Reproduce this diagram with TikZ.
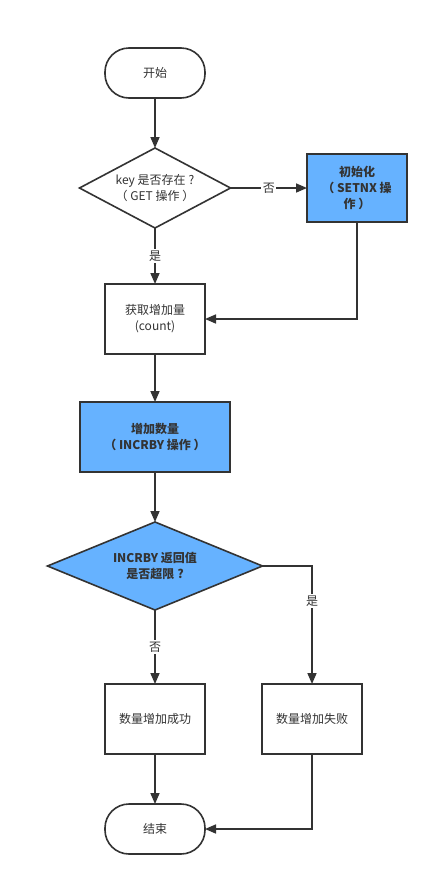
\documentclass[tikz,border=0pt]{standalone}
\usepackage{fontspec}
\setmainfont{Noto Sans CJK SC}
\usetikzlibrary{shapes.geometric,arrows.meta}
\definecolor{edge}{HTML}{333333}
\definecolor{txt}{HTML}{333333}
\definecolor{blue1}{HTML}{66B2FF}
\begin{document}
\begin{tikzpicture}[x=1pt,y=-1pt,
  every node/.style={font=\fontsize{12}{16}\selectfont, text=txt, align=center},
  base/.style={draw=edge, line width=1.6pt, inner sep=0pt, outer sep=0pt},
  box/.style={base, fill=white, minimum width=100pt, minimum height=70pt},
  term/.style={base, fill=white, minimum width=100pt, minimum height=50pt, rounded corners=24pt},
  dec/.style={base, shape=diamond, fill=white},
  hl/.style={fill=blue1, font=\fontsize{12}{16}\selectfont\bfseries},
  arr/.style={draw=edge, line width=1.6pt, -{Triangle[length=11pt,width=9pt]}},
  lbl/.style={fill=white, inner sep=1.5pt, font=\fontsize{12}{14}\selectfont}
]
\useasboundingbox[fill=white] (0,0) rectangle (438,884);
\node[term] (start) at (155,73) {开始};
\node[dec, aspect=1.89, minimum width=151pt, minimum height=80pt] (d1) at (155,188) {key 是否存在\hspace{3pt}?\\（ GET 操作 ）};
\node[box, hl, minimum height=68pt] (init) at (357,188) {初始化\\（ SETNX 操\\作 ）};
\node[box] (get) at (155,319) {获取增加量\\(count)};
\node[box, hl, minimum width=150pt] (incr) at (155,437) {增加数量\\（ INCRBY 操作 ）};
\node[dec, hl, aspect=2.44, minimum width=215pt, minimum height=88pt] (d2) at (155,566) {INCRBY 返回值\\是否超限\hspace{3pt}?};
\node[box] (ok) at (155,719) {数量增加成功};
\node[box] (fail) at (312,719) {数量增加失败};
\node[term] (end) at (155,829) {结束};

\draw[arr] (start) -- (d1);
\draw[arr] (d1.east) -- node[lbl]{否} (init.west);
\draw[arr] (d1.south) -- node[lbl]{是} (get.north);
\draw[arr] (init.south) |- (get.east);
\draw[arr] (get) -- (incr);
\draw[arr] (incr) -- (d2);
\draw[arr] (d2.south) -- node[lbl]{否} (ok.north);
\draw[arr] (d2.east) -| node[lbl, pos=0.648]{是} (fail.north);
\draw[arr] (ok) -- (end);
\draw[arr] (fail.south) |- (end.east);
\end{tikzpicture}
\end{document}
